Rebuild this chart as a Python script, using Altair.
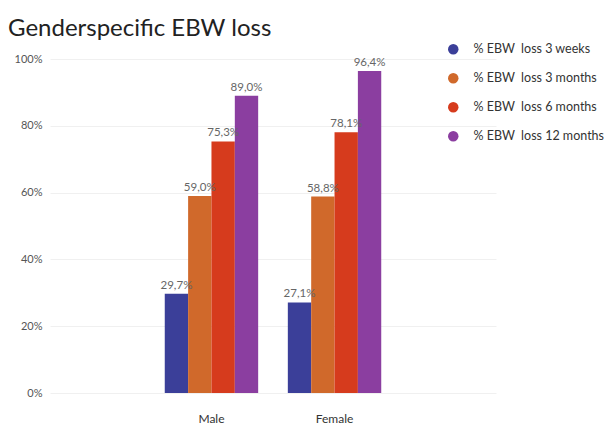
import altair as alt
import pandas as pd

genders = ["Male", "Female"]
series = ["% EBW\u00a0 loss 3 weeks", "% EBW\u00a0 loss 3 months", "% EBW\u00a0 loss 6 months", "% EBW\u00a0 loss 12 months"]
male_values = [29.7, 59.0, 75.3, 89.0]
female_values = [27.1, 58.8, 78.1, 96.4]
colors = ["#3b3f99", "#d0692b", "#d63b1d", "#8b3ea0"]
y_ticks = [0, 20, 40, 60, 80, 100]

rows = []
for g, vals in zip(genders, [male_values, female_values]):
    for s, v in zip(series, vals):
        rows.append({"gender": g, "series": s, "value": v})
df = pd.DataFrame(rows)

FONT = "Lato"

base = alt.Chart(df).encode(
    x=alt.X("gender:N", sort=genders, title=None,
            scale=alt.Scale(paddingInner=0.241, paddingOuter=0.9325),
            axis=alt.Axis(labelAngle=0, labelFont=FONT, labelFontSize=12, labelColor="#333333",
                          labelPadding=20, ticks=False, domain=False, grid=False)),
    xOffset=alt.XOffset("series:N", sort=series, scale=alt.Scale(paddingInner=0, paddingOuter=0)),
)

bars = base.mark_bar().encode(
    y=alt.Y("value:Q", title=None,
            scale=alt.Scale(domain=[0, 100]),
            axis=alt.Axis(values=y_ticks, labelExpr="datum.value + '%'", labelFont=FONT,
                          labelFontSize=11, labelColor="#555555", labelPadding=8,
                          ticks=False, domain=False, grid=True, gridColor="#f0f0f0")),
    color=alt.Color("series:N", sort=series, title=None,
                    scale=alt.Scale(domain=series, range=colors),
                    legend=alt.Legend(orient="none", legendX=397, legendY=-16, symbolType="circle",
                                      symbolSize=110, symbolStrokeWidth=0, labelFont=FONT,
                                      labelFontSize=12.5, labelColor="#333333", labelOffset=14,
                                      rowPadding=16, padding=0, labelLimit=200)),
)

labels = base.mark_text(baseline="bottom", dy=-3, font=FONT, fontSize=11.5, color="#666666").transform_calculate(
    label="replace(format(datum.value, '.1f'), '.', ',') + '%'"
).encode(
    y=alt.Y("value:Q"),
    text="label:N",
)

chart = alt.layer(bars, labels).properties(
    width=446, height=334,
    title=alt.TitleParams("Genderspecific EBW loss", anchor="start", offset=2, dx=-6,
                          font=FONT, fontSize=24, fontWeight="normal", color="#222222"),
    autosize=alt.AutoSizeParams(type="none"),
    padding={"left": 50, "top": 59, "right": 111, "bottom": 34},
).configure_view(stroke=None)

chart.save("out.html", embed_options={"renderer": "svg", "actions": False})
